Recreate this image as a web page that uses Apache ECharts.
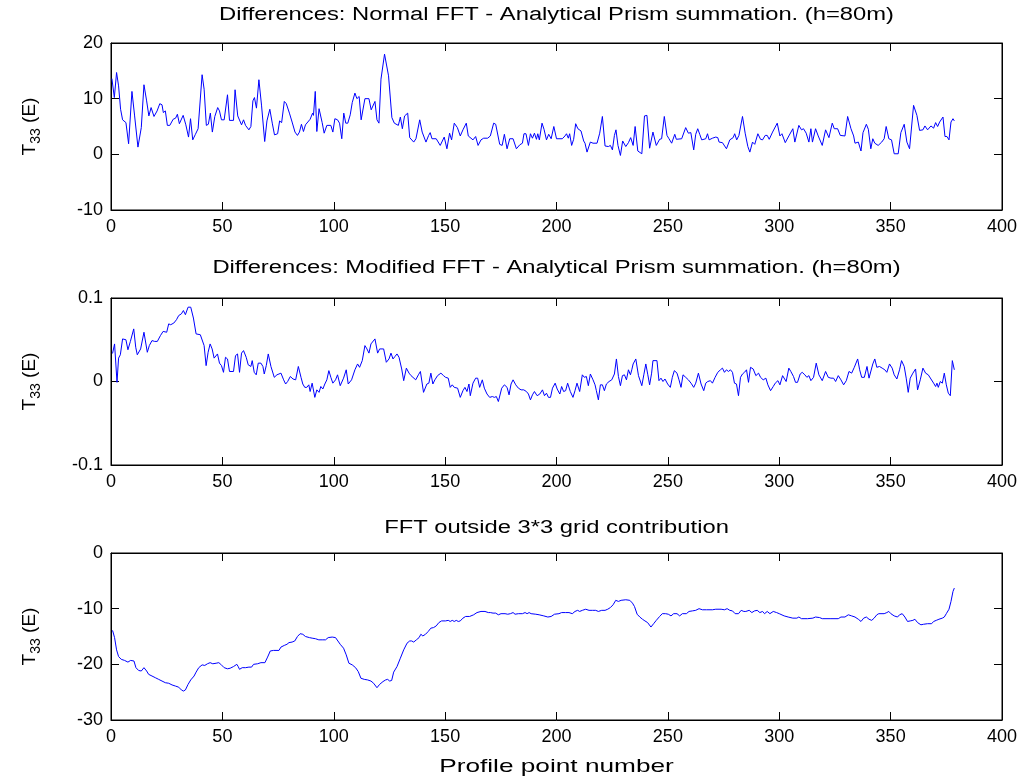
<!DOCTYPE html>
<html>
<head>
<meta charset="utf-8">
<script src="https://cdn.jsdelivr.net/npm/echarts@6/dist/echarts.min.js"></script>
<style>
  html, body { margin: 0; padding: 0; background: #fff; }
  #chart { width: 1026px; height: 780px; }
</style>
</head>
<body>
<div id="chart"></div>
<script>
// ---- data (profile point, value) ----
// panel 1: Normal FFT - Analytical Prism summation
var normalX = [
  0.4,1.5,2.5,3.4,4.3,5.2,6.7,7.9,9.4,10.6,12.1,13.6,14.8,16,17,18,19.3,20.7,21.9,22.9,23.5,24.4,25.3,26.4,27.9,29,29.8,30.7,31.5,32.4,33.6,34.8,35.7,36.7,37.9,39.1,40.9,41.8,42.8,43.7,44.6,45.5,46.6,47.9,48.7,49.6,50.8,52.3,53.2,55,55.7,56.9,58.6,59.5,60.4,61.9,62.8,63.7,64.4,65.3,66.4,67.6,69,70,71.3,72.4,73.4,74.8,75.7,76.6,77.8,78.7,80.1,81.3,82.6,83.7,84.6,85.5,86.4,87.3,89.4,90.5,90.9,91.7,92.4,93.4,94.8,95.7,96.9,98.7,99.6,100.5,
  101.7,102.6,103.6,104.5,105.4,106.3,107.4,108.3,109.5,110.4,111.4,112.3,114,115.8,116.8,117.6,118.5,119.4,120.3,121.2,122.8,124.6,126.1,127.2,129,129.9,130.8,131.8,133.2,134.1,135.9,136.9,138.6,139.7,140.4,141.4,142.6,143.3,144.1,146,147.8,149.6,150.8,152,152.9,154.1,155.5,156.8,158,158.6,159.5,160.4,162.5,163.7,164.8,166.1,167.3,169.1,170.3,171.8,172.7,174.5,175.6,176.6,177.8,179,180.5,182,183.5,184.7,185.4,186.3,187.4,188.3,189.2,190.1,191,191.6,192.3,193.5,194.4,195.5,196.5,197.6,198.8,200,
  202.6,203.8,204.5,205.3,205.9,206.8,207.7,208.6,209.6,211,212.2,212.8,213.7,215.2,216.4,218.2,219.4,220.6,221.8,223.3,224.2,225.1,226,226.7,227.6,228.7,229.7,231.1,232.3,233.3,234.4,235.3,236.5,238.3,239.5,240.6,241.8,243.3,244.8,246.3,247.2,248.4,249.6,250.5,251.7,252.3,253.1,253.8,256.2,258,259.2,260.3,261.6,262.5,263.4,264.3,265.2,267,267.8,268.5,270,271.5,272.4,273,274.5,276.3,277.8,279.3,280,280.9,281.9,283.5,284.7,285.9,286.8,288,289,290.4,291.6,292.5,293.7,294.6,295.5,297,299.1,300.3,301.2,302.7,
  304.3,306.1,307,308.8,310,310.9,312.1,313.3,314.2,314.9,316.3,317.5,319.3,320.8,322.3,323.8,324.7,326.2,327.4,329.5,330.7,332.2,333.4,334,335.5,336.7,337.6,339.1,340,341.1,342,342.9,344.4,346,347.1,348,349.2,350.4,351.6,353.4,354.6,356.1,357.3,358.5,360.3,361.8,363,364.5,365.4,366.6,368.1,369.3,370.2,371.1,372,373.5,374.4,375.3,376.2,377.1,378,378.6
];
var normalY = [
  13.6,10.2,14.7,12.3,8.1,6.2,5.7,1.9,11.3,6.9,1.3,4.8,12.5,9.6,6.9,8.4,6.8,7.8,9.1,8.9,7.5,7.8,5.2,5.2,6.3,6.5,7.2,5.5,5.6,7,5.3,3.1,6.4,2.6,3.6,4.6,14.3,11.7,5.2,5.4,7.4,4,6.8,8.4,7.8,6.2,6.2,10.7,6.1,6.1,11.6,6.9,5.3,6.2,5.2,4.4,5,9.6,10.2,8.3,13.4,8.7,2.3,6,8.1,5.6,3.5,3.7,6,5.7,9.5,9.1,7.4,5.8,4,3.4,4,5.4,4.1,5.3,6.3,7.4,7,11.3,4.1,8.2,5.7,3.8,5.2,5.2,4,6.4,
  6.2,5.6,2.8,7.4,5.6,5.6,7.1,9.3,11,10,10.4,6.2,10,10,8,8.2,9.5,6.2,5.6,13.5,18,14.1,6.6,5.6,5.2,6.7,4.6,6.9,7.4,3,2.2,2.8,6.2,4,4.1,2.2,3.4,3.9,2.8,2.8,1.6,3.1,1,3.8,2.6,5.6,4.8,3.3,4.4,4.4,5.6,3.3,2.6,3.2,1.6,2.6,2.9,2.9,3.3,5.6,5.4,1.8,1.6,3.6,1,2.8,2.8,1,1.7,2,3.7,3.7,1.6,3.7,2.9,3.8,2.7,3.7,2.6,5.6,4.5,2.6,3.6,2.8,5,2.8,
  2.8,3.3,3.7,2.9,3.7,1.6,2.7,5.5,4.6,4.2,2.4,2,0.4,2.2,2,2,3.8,6.8,1.5,1.4,1.6,0.8,3.4,4.4,1.6,-0.2,2.4,1.4,2.1,3,1.6,5,0.6,0.1,6.9,7,1.1,4,1.6,2.7,2.8,6.8,3.4,2.8,2,2,3.6,2.7,2.8,4.8,3.8,3.9,0.8,3.6,4.6,3.6,2.6,2.8,3.7,2.6,2.9,3.1,3,2.2,2.1,1,2.6,3,3.7,2.6,3.4,6.8,3.8,1.4,0.4,2.2,1.8,3.7,2.7,2.6,3.4,3.4,2.7,4,5.6,3.3,3.7,2.1,
  3.3,4.6,2.2,5.2,4.4,4.6,3.8,2.2,4.6,2.2,4.6,3.3,1.6,4.4,3,5.6,4.6,4.6,3.4,3.3,6.8,4.6,3.3,2,2.2,0.6,3.9,5.4,4.5,1,2.8,2,1.6,2.2,2.8,5,2.8,2.6,0.1,0.1,3.9,5.4,2.2,1,8.8,7,4.3,4.4,5.1,4.4,5.1,4.7,5.7,5,5.8,6.7,3.2,3.2,2.6,5.8,6.4,6
];

// panel 2: Modified FFT - Analytical Prism summation
var modifiedX = [
  0.7,1.6,2.7,3.4,4.2,5.2,6.7,7.6,8.7,10.2,11.1,11.8,13.3,14.8,16.3,17.2,18.4,19.6,20.8,22.2,23.4,24.1,25,25.9,26.8,28.2,29.4,30.4,31.6,32.5,33.4,34.6,35.8,37,38.2,40.1,40.9,41.8,42.7,43.6,44.5,45.4,46.3,47.8,48.7,49.6,50.5,51.4,52.3,53.2,55,55.9,56.8,57.7,58.6,59.5,60.7,61.6,62.8,63.4,64.3,65.2,66.1,67.3,68.2,68.8,69.7,70.6,71.8,73.3,74.5,75.4,76.3,77.5,78.4,79.3,80.5,81.7,82.9,84.1,85.3,86.1,87,87.9,88.8,89.4,90.3,91.5,92.4,93.4,94.2,95.1,96,96.9,97.8,98.7,99.6,100.8,
  101.7,102.9,104.4,105.6,106.5,108,109.5,110.7,111.6,112.8,114,114.9,115.8,116.7,117.3,118.5,119.7,120.6,122.4,123.6,124.8,125.7,126.6,127.5,128.4,129.3,130.5,131.4,132.6,133.8,134.7,136.8,138,138.9,140.3,141.8,142.7,143.6,144.5,145.4,146.6,148.1,149.3,150.2,151.4,152.3,153.2,154.1,155.6,156.8,158,158.9,159.8,160.7,161.3,162.5,163.7,164.6,165.5,166.7,167.6,168.8,170,171.2,172.1,173,173.9,174.5,175.4,176.6,177.8,178.7,179.6,180.5,181.7,182.9,184.1,185.3,186.5,187.4,188.3,189.2,190.1,191.3,192.5,193.7,194.6,195.5,196.4,197.3,198.2,199.4,200.3,201.5,
  202.3,203.2,204.1,205,206.2,207.4,208.3,209.2,210.4,211.6,212.5,213.4,214.3,215.2,216.4,217.3,217.9,218.8,219.7,220.6,221.5,222.4,223.6,224.8,225.4,226,226.9,227.8,228.7,229.6,230.5,231.4,232.3,233.2,233.8,234.4,235.6,236.8,238.3,239.2,240.1,241,241.8,242.7,243.3,245.1,246,246.9,247.8,248.7,249.9,251.1,252,252.9,254.1,255,255.9,256.8,258,259.2,260.4,261.6,262.5,263.7,264.9,266.1,267,267.9,269.1,270,271.2,272.4,273.6,274.5,275.4,276.3,277.2,278.1,279,279.9,280.8,281.7,282.6,283.5,284.4,285.3,286.2,287.1,288.3,289.5,290.7,291.6,292.8,294,294.9,296.1,297.3,298.2,299.4,300.3,301.5,
  303.1,304.3,305.2,306.4,307.3,308.2,309.4,310.3,311.5,312.4,313.3,314.2,315.4,316.6,317.8,319.3,320.8,322,323.2,324.4,325.3,326.5,327.7,328.9,330.1,331.3,332.5,333.7,335.2,336.1,337,338.2,339.4,340.3,341.1,342,342.9,343.8,345,346.2,347.4,348.3,349.5,350.7,351.6,352.8,354,354.9,356.1,357,357.9,358.8,360,361.2,362.1,363.3,364.5,365.7,366.9,368.1,369.3,370.2,370.8,371.4,372.3,373.2,374.1,375,375.9,376.8,377.7,378.6
];
var modifiedY = [
  0.0336,0.045,-0.001,0.028,0.032,0.051,0.05,0.038,0.048,0.063,0.041,0.032,0.039,0.059,0.035,0.043,0.049,0.048,0.048,0.055,0.06,0.058,0.059,0.069,0.068,0.07,0.074,0.079,0.081,0.085,0.08,0.089,0.089,0.076,0.057,0.056,0.055,0.043,0.019,0.035,0.045,0.039,0.028,0.033,0.022,0.019,0.011,0.029,0.027,0.012,0.012,0.031,0.033,0.011,0.034,0.037,0.029,0.02,0.018,0.025,0.011,0.008,0.022,0.022,0.018,0.009,0.019,0.033,0.018,0.005,0.008,0.009,0.01,0.002,-0.003,0,0.006,0.003,0.002,0.018,0.005,-0.003,-0.007,-0.007,-0.004,-0.012,-0.002,-0.019,-0.01,-0.013,-0.006,-0.009,-0.003,0.002,0.013,0.005,-0.002,0.002,
  0.008,-0.005,0.004,0.014,-0.003,0.002,0.014,0.021,0.017,0.025,0.043,0.039,0.034,0.045,0.043,0.051,0.034,0.039,0.039,0.023,0.027,0.034,0.027,0.03,0.033,0.029,0.015,0.001,0.016,0.01,0.007,0.002,0.008,0.012,-0.013,-0.003,-0.002,0.01,-0.003,0.002,0.007,0.01,0.007,0.005,0.004,-0.007,-0.004,-0.007,-0.008,-0.019,-0.011,-0.007,-0.012,-0.003,-0.017,-0.002,0.004,0.004,-0.007,0.002,-0.008,-0.015,-0.019,-0.018,-0.019,-0.018,-0.024,-0.025,-0.008,-0.004,-0.007,-0.016,-0.003,0.002,-0.004,-0.008,-0.01,-0.01,-0.012,-0.015,-0.022,-0.016,-0.012,-0.017,-0.015,-0.01,-0.017,-0.014,-0.019,-0.019,-0.008,-0.002,-0.009,-0.015,
  -0.006,-0.012,-0.011,-0.002,-0.012,-0.019,-0.011,-0.002,-0.012,0.008,0.005,0.006,-0.005,0.009,0.002,-0.004,-0.011,-0.022,-0.004,-0.004,-0.011,-0.003,0,0.002,0,0.009,0.027,0.006,-0.005,0.007,0.008,0.002,0.014,0.008,0.014,0.021,0.027,0.007,-0.005,0.008,0.021,0.008,-0.004,0.01,0.025,0.025,0.001,0.004,0,0.003,-0.003,-0.007,0.005,0.013,0.01,0.002,-0.007,0.008,0.005,0.002,-0.002,-0.007,-0.002,0.01,-0.003,-0.011,-0.002,0,0.001,-0.002,0.005,0.011,0.014,0.016,0.011,0.014,0.012,0.014,0.011,-0.002,-0.003,-0.017,0.005,0.009,0.011,0.014,-0.001,0.017,0.015,0.007,0.01,0.005,0.002,0.004,-0.004,-0.011,-0.006,-0.002,0.001,-0.004,0.007,
  0,0.016,0.012,0.006,-0.001,-0.001,0.009,0.011,0.008,0.005,0.007,0.001,0.005,0.022,0.008,0.001,0.012,0.005,0.004,0.004,0,0.007,0.002,-0.004,0.001,0.012,0.01,0.017,0.027,0.014,0.005,0.005,0.018,0.004,0.006,0.021,0.027,0.017,0.018,0.016,0.014,0.011,0.021,0.016,0.008,0.003,0.014,0.025,0.018,0.004,-0.013,0.004,0.01,0.015,-0.01,0.002,0.016,0.01,0.008,0.003,-0.002,-0.006,-0.002,-0.007,0,-0.002,0.01,-0.004,-0.014,-0.017,0.025,0.014
];

// panel 3: FFT outside 3*3 grid contribution
var outsideX = [
  0.7,1.6,2.5,3.4,4.6,6.1,7.6,8.8,10.3,11.2,12.4,13.6,14.8,16,16.9,18.4,19.9,21.4,22.9,24.4,25.9,27.4,28.9,30.4,31.6,32.5,33.4,34.6,35.8,37.3,38.2,39.4,40.9,42.1,43.3,44.5,45.7,47.2,48.4,49.3,50.8,52.3,53.5,55,56.5,57.1,57.7,58.9,60.4,61.9,63.1,64,65.8,67.3,69.1,70.3,71.5,73,75.4,76.3,77.8,79,79.9,81.3,82.5,83.7,84.9,86.1,87.3,89.1,90.3,91.8,93.3,94.8,96.3,97.5,99.3,100.8,
  101.4,102.9,104.4,105.6,106.8,108.3,109.8,111,112.2,113.7,115.2,116.7,117.9,119.4,120.6,122.1,123.3,124.2,125.1,126,126.9,128.4,129.9,131.4,132.9,134.1,135,135.9,137.1,138.3,139.1,140,141.2,142.4,143.6,144.8,146,147.2,148.4,150.2,151.4,152.3,153.2,154.1,155,155.9,156.8,158,159.2,161,162.8,164.3,166.1,167.9,169.4,170.3,171.5,172.7,173.9,175.1,176.9,178.1,179.3,180.5,181.4,182.9,184.7,185.9,186.8,187.7,188.6,190.7,192.2,194.3,196.1,197.6,199.1,
  201.1,202.3,204.1,205.6,207.1,208.3,209.5,210.4,211.6,213.1,214.6,216.1,217.6,218.8,220.3,221.8,223,224.2,225.4,226.6,227.8,229,231.1,232.9,234.1,235,236.2,237.4,238.6,239.7,240.9,242.4,243.6,244.8,246.3,247.5,249,250.2,251.4,252.6,254.1,255.3,256.5,258.3,259.5,261,262.5,264,265.5,267.3,270,271.5,273.9,275.4,276.6,277.8,279,280.2,281.7,282.9,284.1,285,286.5,287.7,288.9,290.1,291.3,292.5,293.4,294.6,295.8,297.3,298.8,300,
  302.2,304,306.1,307.9,308.8,310,312.7,315.1,316.3,318.1,319.3,323.2,326.5,327.7,329.5,331,332.5,334,335.5,336.7,337.9,339.1,340.3,341.5,342.6,343.8,344.7,347.1,348.3,349.2,350.1,351.6,353.1,354,355.2,356.4,357.6,358.8,360,360.9,362.1,363.6,364.8,366.6,368.4,369.3,370.5,371.7,373.2,374.1,375,376.2,377.1,378,378.6
];
var outsideY = [
  -13.9,-15.2,-17.4,-18.6,-19.1,-19.3,-19.6,-19.3,-19.4,-20.6,-21.1,-21.2,-20.6,-21.2,-21.8,-22.1,-22.4,-22.7,-23,-23.3,-23.4,-23.7,-23.9,-24.1,-24.6,-24.8,-24.6,-23.6,-22.8,-22.1,-21.4,-20.6,-20.1,-20.2,-19.9,-19.7,-19.9,-19.8,-19.7,-20,-20.6,-20.8,-20.7,-20.4,-20,-20.4,-20.9,-20.6,-20.6,-20.5,-20.5,-20,-19.9,-19.7,-19.7,-18.7,-17.6,-17.5,-17.5,-16.9,-16.6,-16.4,-16.1,-16,-15.8,-15,-14.5,-14.6,-15,-15.2,-15.3,-15.4,-15.6,-15.6,-15.6,-15.2,-15.1,-15.2,
  -15.3,-16.4,-17.1,-18.3,-19.8,-20.1,-20.6,-21.3,-22.5,-22.7,-22.8,-23,-23.4,-24.2,-23.6,-23.1,-22.8,-22.7,-23,-22.9,-21.4,-20.4,-18.9,-17.4,-16.2,-15.8,-15.8,-16,-15.6,-15.2,-14.6,-14.9,-14.6,-14.1,-13.5,-13.4,-13.1,-12.5,-12.2,-12.2,-12.1,-12.3,-12.1,-12.3,-12.1,-12.3,-12.2,-11.7,-11.4,-11.4,-11.1,-10.7,-10.5,-10.5,-10.7,-10.7,-10.8,-10.8,-11.1,-10.9,-10.9,-11,-10.9,-10.7,-11,-10.9,-10.9,-10.7,-10.9,-10.7,-10.9,-11,-11.1,-11.3,-11.5,-11.4,-11,
  -10.9,-10.7,-10.7,-10.7,-10.9,-10.5,-10.3,-10.5,-10.3,-10.1,-10.3,-10.3,-10.3,-10.5,-10.3,-10.3,-10.1,-9.8,-9.3,-8.5,-8.7,-8.5,-8.4,-8.5,-9,-9.6,-11,-11.5,-11.9,-12.2,-12.5,-13.3,-12.7,-12.1,-11.4,-10.9,-10.9,-11,-11.3,-10.9,-10.9,-11.3,-10.9,-10.9,-10.5,-10.4,-10.3,-10,-10.2,-10.2,-10.2,-10.1,-10.1,-10.2,-10,-10.3,-10.4,-10.9,-10.9,-10.3,-10.5,-10.5,-10.3,-10.7,-10.4,-10.3,-10.7,-10.5,-10.9,-10.5,-10.9,-10.5,-10.7,-10.9,
  -11.3,-11.5,-11.7,-11.7,-11.5,-11.8,-11.8,-11.7,-11.5,-11.6,-11.8,-11.8,-11.8,-11.5,-11.5,-11.1,-11.3,-11.5,-11.9,-12.3,-11.7,-11.5,-11.9,-12.1,-11.7,-11.1,-10.9,-10.9,-10.7,-10.5,-10.9,-11.3,-11.5,-11.1,-10.9,-11.5,-12.3,-12.2,-12.1,-11.9,-12.5,-12.9,-12.8,-12.7,-12.7,-12.3,-12.1,-11.9,-11.7,-11.5,-10.9,-10.1,-8.7,-6.9,-6.3
];

var titles = [
  'Differences: Normal FFT - Analytical Prism summation. (h=80m)',
  'Differences: Modified FFT - Analytical Prism summation. (h=80m)',
  'FFT outside 3*3 grid contribution'
];
var yRanges = [[-10, 20, 10], [-0.1, 0.1, 0.1], [-30, 0, 10]];
var xTicks = [0, 400, 50];

// ---- layout ----
var FONT = 'Liberation Sans, Arial, Helvetica, sans-serif';
var panelTops = [43, 298, 553];
var titleY = [15, 268, 528];
var panelH = 167;
var plotLeft = 111, plotW = 891;

function pairs(xs, ys) {
  var out = [];
  for (var i = 0; i < xs.length; i++) out.push([xs[i], ys[i]]);
  return out;
}

var grids = [], xAxes = [], yAxes = [], series = [], graphics = [];
var seriesData = [pairs(normalX, normalY), pairs(modifiedX, modifiedY), pairs(outsideX, outsideY)];

for (var p = 0; p < 3; p++) {
  grids.push({ left: plotLeft, top: panelTops[p], width: plotW, height: panelH,
    show: true, borderColor: '#000', borderWidth: 1, backgroundColor: '#fff' });
  var tick = { show: true, inside: true, length: 8, lineStyle: { color: '#000', width: 1 } };
  var line = { show: true, onZero: false, lineStyle: { color: '#000', width: 1 } };
  // bottom and top x axes (MATLAB box ticks)
  xAxes.push({ gridIndex: p, type: 'value', position: 'bottom', min: xTicks[0], max: xTicks[1], interval: xTicks[2],
    axisLine: line, axisTick: tick, splitLine: { show: false },
    axisLabel: { color: '#000', fontSize: 18, fontFamily: FONT, margin: 8 } });
  xAxes.push({ gridIndex: p, type: 'value', position: 'top', min: xTicks[0], max: xTicks[1], interval: xTicks[2],
    axisLine: line, axisTick: tick, splitLine: { show: false },
    axisLabel: { show: false } });
  var r = yRanges[p];
  yAxes.push({ gridIndex: p, type: 'value', position: 'left', min: r[0], max: r[1], interval: r[2],
    axisLine: line, axisTick: tick, splitLine: { show: false },
    axisLabel: { color: '#000', fontSize: 18, fontFamily: FONT, margin: 8 },
    name: '{a|T}{s|33}{a| (E)}', nameLocation: 'middle', nameGap: 68, nameRotate: 90,
    nameTextStyle: { color: '#000', fontFamily: FONT,
      rich: { a: { fontSize: 19, fontFamily: FONT, color: '#000', lineHeight: 26, verticalAlign: 'middle' },
              s: { fontSize: 14, fontFamily: FONT, color: '#000', lineHeight: 26, verticalAlign: 'bottom', padding: [10, 0, 0, 0] } } } });
  yAxes.push({ gridIndex: p, type: 'value', position: 'right', min: r[0], max: r[1], interval: r[2],
    axisLine: line, axisTick: tick, splitLine: { show: false },
    axisLabel: { show: false } });
  series.push({ type: 'line', xAxisIndex: 2 * p, yAxisIndex: 2 * p, data: seriesData[p],
    showSymbol: false, symbol: 'none', animation: false, silent: true,
    lineStyle: { color: '#0000ff', width: 1 } });
  // MATLAB text is spread wider than Arial, so stretch it a bit
  graphics.push({ type: 'text', x: plotLeft + plotW / 2, y: titleY[p], scaleX: 1.32,
    style: { text: titles[p], fill: '#000', font: '18px ' + FONT, textAlign: 'center', textVerticalAlign: 'middle' } });
}
graphics.push({ type: 'text', x: plotLeft + plotW / 2, y: 767, scaleX: 1.38,
  style: { text: 'Profile point number', fill: '#000', font: '19px ' + FONT, textAlign: 'center', textVerticalAlign: 'middle' } });

var myChart = echarts.init(document.getElementById('chart'), null, { renderer: 'canvas' });
var option = {
  backgroundColor: '#fff',
  animation: false,
  grid: grids,
  xAxis: xAxes,
  yAxis: yAxes,
  series: series,
  graphic: graphics
};
myChart.setOption(option);
</script>
</body>
</html>
